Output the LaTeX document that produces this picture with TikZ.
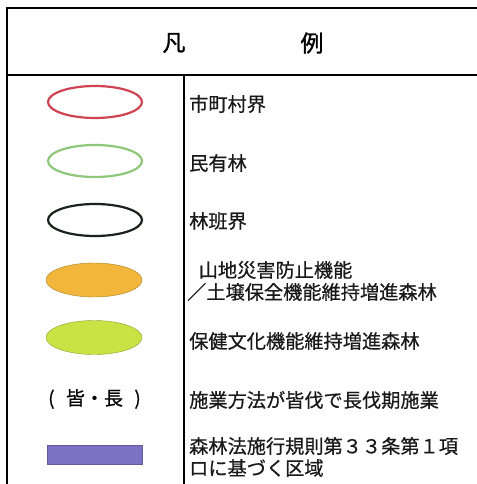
\documentclass[tikz,border=0pt]{standalone}
\usepackage{fontspec}
\usetikzlibrary{shapes.geometric}
\setmainfont{Noto Sans CJK JP}
\newfontfamily\jp[FakeBold=0.6]{Noto Sans CJK JP}
\newfontfamily\jpt[FakeBold=1.2]{Noto Sans CJK JP}
\definecolor{redline}{HTML}{CF4452}
\definecolor{greenline}{HTML}{8FC77A}
\definecolor{darkline}{HTML}{1A221C}
\definecolor{orangefill}{HTML}{F2B63C}
\definecolor{limefill}{HTML}{C9E244}
\definecolor{bluefill}{HTML}{7B72C4}
\tikzset{
  frameline/.style={line width=1.6pt, black},
  ring/.style={ellipse, minimum width=94pt, minimum height=32pt, line width=2.2pt, inner sep=0pt},
  blob/.style={ellipse, minimum width=96pt, minimum height=34pt, inner sep=0pt, draw=#1!70!black, line width=0.4pt, fill=#1},
  lbl/.style={anchor=west, inner sep=0pt, font=\jp\fontsize{19.2pt}{22pt}\selectfont, align=left, text=black!90},
  ttl/.style={inner sep=0pt, font=\jpt\fontsize{23pt}{26pt}\selectfont}
}
\begin{document}
\begin{tikzpicture}[x=1pt,y=-1pt]
\useasboundingbox (0,0) rectangle (476,484);
\fill[white] (0,0) rectangle (476,484);
% frame
\draw[frameline] (480,8) -- (7,8) -- (7,490);
\draw[frameline] (7,75) -- (480,75);
\draw[frameline] (184,75) -- (184,490);
% title
\node[ttl] (t1) at (174,43) {凡};
\node[ttl] (t2) at (312,43) {例};
% symbols
\node[ring, draw=redline] (s1) at (95,102) {};
\node[ring, draw=greenline] (s2) at (95,161) {};
\node[ring, draw=darkline] (s3) at (95,220) {};
\node[blob=orangefill] (s4) at (94,280) {};
\node[blob=limefill] (s5) at (94,337.5) {};
\node[inner sep=0pt, font=\jp\fontsize{19pt}{22pt}\selectfont] (s6) at (94.5,399) {(\hspace{0.6em}皆・長\hspace{0.6em})};
\node[rectangle, fill=bluefill, draw=bluefill!80!black, line width=0.4pt, minimum width=95pt, minimum height=19pt, inner sep=0pt] (s7) at (94.5,454.5) {};
% labels
\node[lbl] (l1) at (189,104) {市町村界};
\node[lbl] (l2) at (189,163) {民有林};
\node[lbl] (l3) at (189,221) {林班界};
\node[lbl] (l4) at (187,281) {\hspace{0.6em}山地災害防止機能\\／土壌保全機能維持増進森林};
\node[lbl] (l5) at (189,341) {保健文化機能維持増進森林};
\node[lbl] (l6) at (189,400) {施業方法が皆伐で長伐期施業};
\node[lbl] (l7) at (189,457) {森林法施行規則第３３条第１項\\ロに基づく区域};
\end{tikzpicture}
\end{document}
